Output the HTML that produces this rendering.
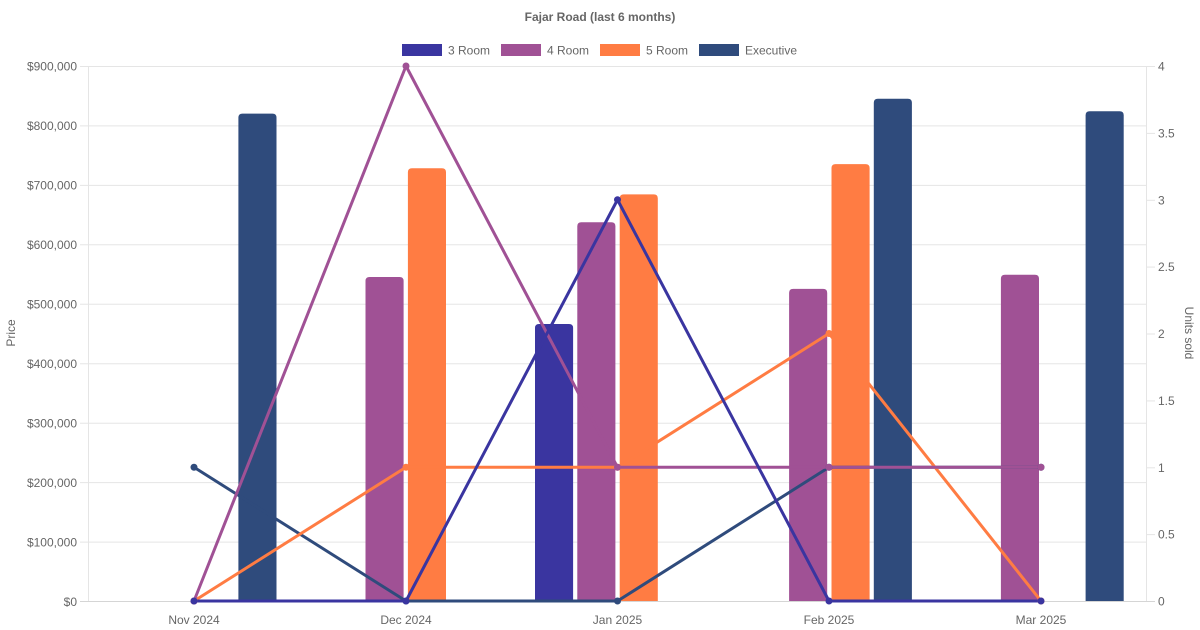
<!DOCTYPE html>
<html><head><meta charset="utf-8"><style>
html,body{margin:0;padding:0;background:#fff;}
svg{display:block;font-family:"Liberation Sans",sans-serif;}
</style></head><body>
<svg width="1200" height="630" viewBox="0 0 1200 630" xmlns="http://www.w3.org/2000/svg">
<rect width="1200" height="630" fill="#fff"/>
<text x="600" y="21" text-anchor="middle" font-size="12" font-weight="bold" fill="#666">Fajar Road (last 6 months)</text>
<g font-size="12" fill="#666">
<rect x="402" y="44" width="40" height="12" fill="#3a35a0"/><text x="448" y="54.5">3 Room</text>
<rect x="501" y="44" width="40" height="12" fill="#a05195"/><text x="547" y="54.5">4 Room</text>
<rect x="600" y="44" width="40" height="12" fill="#ff7c43"/><text x="646" y="54.5">5 Room</text>
<rect x="699" y="44" width="40" height="12" fill="#2f4b7c"/><text x="745" y="54.5">Executive</text>
</g>
<g stroke="#e5e5e5" stroke-width="1">
<line x1="80" y1="66.5" x2="1147" y2="66.5"/>
<line x1="80" y1="125.9" x2="1147" y2="125.9"/>
<line x1="80" y1="185.4" x2="1147" y2="185.4"/>
<line x1="80" y1="244.8" x2="1147" y2="244.8"/>
<line x1="80" y1="304.3" x2="1147" y2="304.3"/>
<line x1="80" y1="363.7" x2="1147" y2="363.7"/>
<line x1="80" y1="423.2" x2="1147" y2="423.2"/>
<line x1="80" y1="482.6" x2="1147" y2="482.6"/>
<line x1="80" y1="542.1" x2="1147" y2="542.1"/>
<line x1="88.5" y1="66" x2="88.5" y2="601"/>
<line x1="1146.5" y1="66" x2="1146.5" y2="601"/>
<line x1="1147" y1="66.5" x2="1155" y2="66.5"/>
<line x1="1147" y1="133.4" x2="1155" y2="133.4"/>
<line x1="1147" y1="200.3" x2="1155" y2="200.3"/>
<line x1="1147" y1="267.1" x2="1155" y2="267.1"/>
<line x1="1147" y1="334" x2="1155" y2="334"/>
<line x1="1147" y1="400.9" x2="1155" y2="400.9"/>
<line x1="1147" y1="467.8" x2="1155" y2="467.8"/>
<line x1="1147" y1="534.6" x2="1155" y2="534.6"/>
</g>
<line x1="80" y1="601.5" x2="1155" y2="601.5" stroke="#d5d5d5" stroke-width="1"/>
<g font-size="12" fill="#666" text-anchor="end">
<text x="77" y="70.5">$900,000</text>
<text x="77" y="130">$800,000</text>
<text x="77" y="189.5">$700,000</text>
<text x="77" y="249">$600,000</text>
<text x="77" y="308.5">$500,000</text>
<text x="77" y="368">$400,000</text>
<text x="77" y="427.5">$300,000</text>
<text x="77" y="487">$200,000</text>
<text x="77" y="546.5">$100,000</text>
<text x="77" y="606">$0</text>
</g>
<g font-size="12" fill="#666" text-anchor="start">
<text x="1158" y="70.5">4</text>
<text x="1158" y="137.5">3.5</text>
<text x="1158" y="204.5">3</text>
<text x="1158" y="271">2.5</text>
<text x="1158" y="338">2</text>
<text x="1158" y="405">1.5</text>
<text x="1158" y="472">1</text>
<text x="1158" y="538.5">0.5</text>
<text x="1158" y="605.5">0</text>
</g>
<g font-size="12" fill="#666" text-anchor="middle">
<text x="194" y="624">Nov 2024</text>
<text x="406" y="624">Dec 2024</text>
<text x="617.5" y="624">Jan 2025</text>
<text x="829" y="624">Feb 2025</text>
<text x="1041" y="624">Mar 2025</text>
</g>
<text transform="translate(15,333) rotate(-90)" font-size="12" fill="#666" text-anchor="middle">Price</text>
<text transform="translate(1185,333) rotate(90)" font-size="12" fill="#666" text-anchor="middle">Units sold</text>
<!-- bars -->
<g>
<path d="M238.4,601 V117.6 Q238.4,113.6 242.4,113.6 H272.5 Q276.5,113.6 276.5,117.6 V601 Z" fill="#2f4b7c"/>
<path d="M365.5,601 V281 Q365.5,277 369.5,277 H399.6 Q403.6,277 403.6,281 V601 Z" fill="#a05195"/>
<path d="M407.9,601 V172.3 Q407.9,168.3 411.9,168.3 H442 Q446,168.3 446,172.3 V601 Z" fill="#ff7c43"/>
<path d="M535,601 V328 Q535,324 539,324 H569.1 Q573.1,324 573.1,328 V601 Z" fill="#3a35a0"/>
<path d="M577.3,601 V226.3 Q577.3,222.3 581.3,222.3 H611.4 Q615.4,222.3 615.4,226.3 V601 Z" fill="#a05195"/>
<path d="M619.7,601 V198.4 Q619.7,194.4 623.7,194.4 H653.8 Q657.8,194.4 657.8,198.4 V601 Z" fill="#ff7c43"/>
<path d="M789.1,601 V292.9 Q789.1,288.9 793.1,288.9 H823.2 Q827.2,288.9 827.2,292.9 V601 Z" fill="#a05195"/>
<path d="M831.5,601 V168.1 Q831.5,164.1 835.5,164.1 H865.6 Q869.6,164.1 869.6,168.1 V601 Z" fill="#ff7c43"/>
<path d="M873.8,601 V102.7 Q873.8,98.7 877.8,98.7 H907.9 Q911.9,98.7 911.9,102.7 V601 Z" fill="#2f4b7c"/>
<path d="M1000.9,601 V278.7 Q1000.9,274.7 1004.9,274.7 H1035 Q1039,274.7 1039,278.7 V601 Z" fill="#a05195"/>
<path d="M1085.6,601 V115.2 Q1085.6,111.2 1089.6,111.2 H1119.7 Q1123.7,111.2 1123.7,115.2 V601 Z" fill="#2f4b7c"/>
</g>
<!-- lines -->
<g fill="none" stroke-width="3" stroke-linejoin="round">
<polyline stroke="#2f4b7c" points="194,467.25 406,601 617.5,601 829,467.25 1041,467.25"/>
<polyline stroke="#ff7c43" points="194,601 406,467.25 617.5,467.25 829,333.5 1041,601"/>
<polyline stroke="#a05195" points="194,601 406,66 617.5,467.25 829,467.25 1041,467.25"/>
<polyline stroke="#3a35a0" points="194,601 406,601 617.5,199.75 829,601 1041,601"/>
</g>
<g fill="#2f4b7c">
<circle cx="194" cy="467.25" r="3.5"/><circle cx="406" cy="601" r="3.5"/><circle cx="617.5" cy="601" r="3.5"/><circle cx="829" cy="467.25" r="3.5"/><circle cx="1041" cy="467.25" r="3.5"/>
</g>
<g fill="#ff7c43">
<circle cx="194" cy="601" r="3.5"/><circle cx="406" cy="467.25" r="3.5"/><circle cx="617.5" cy="467.25" r="3.5"/><circle cx="829" cy="333.5" r="3.5"/><circle cx="1041" cy="601" r="3.5"/>
</g>
<g fill="#a05195">
<circle cx="194" cy="601" r="3.5"/><circle cx="406" cy="66" r="3.5"/><circle cx="617.5" cy="467.25" r="3.5"/><circle cx="829" cy="467.25" r="3.5"/><circle cx="1041" cy="467.25" r="3.5"/>
</g>
<g fill="#3a35a0">
<circle cx="194" cy="601" r="3.5"/><circle cx="406" cy="601" r="3.5"/><circle cx="617.5" cy="199.75" r="3.5"/><circle cx="829" cy="601" r="3.5"/><circle cx="1041" cy="601" r="3.5"/>
</g>
</svg>
</body></html>
